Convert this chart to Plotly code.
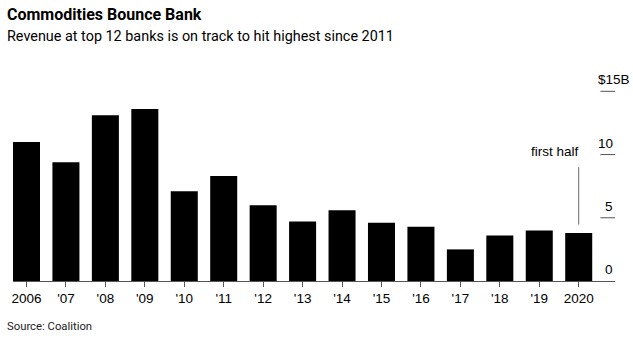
import plotly.graph_objects as go

years = ["2006", "'07", "'08", "'09", "'10", "'11", "'12", "'13", "'14", "'15", "'16", "'17", "'18", "'19", "2020"]
revenue = [11.0, 9.4, 13.1, 13.6, 7.1, 8.3, 6.0, 4.7, 5.6, 4.6, 4.3, 2.5, 3.6, 4.0, 3.8]
ytick_vals = [0, 5, 10, 15]
ytick_text = ["0", "5", "10", "$15B"]

FONT = "Liberation Sans, Arial, sans-serif"
TFONT = "Roboto, Liberation Sans, sans-serif"

W, H = 633, 339
ml, mr, mt, mb = 13, 18, 85, 58

fig = go.Figure(go.Bar(x=years, y=revenue, marker=dict(color="#000000", line=dict(width=0)),
                       hoverinfo="skip"))

fig.update_layout(
    width=W, height=H,
    margin=dict(l=ml, r=mr, t=mt, b=mb),
    paper_bgcolor="white", plot_bgcolor="white",
    bargap=0.315,
    showlegend=False,
    font=dict(family=FONT, color="#000"),
    xaxis=dict(type="category", range=[-0.342, 14.92], showgrid=False, zeroline=False,
               showline=True, linecolor="#555", linewidth=1,
               ticks="outside", ticklen=5, tickcolor="#555", tickwidth=1,
               tickfont=dict(size=13.5, family=FONT, color="#000")),
    yaxis=dict(range=[0, 15.5], showgrid=False, zeroline=False, showline=False,
               showticklabels=False, ticks=""),
)

# y-axis ticks (short marks at right with labels above)
for v, t in zip(ytick_vals, ytick_text):
    if v > 0:
        fig.add_shape(type="line", xref="x", yref="y", x0=14.55, x1=14.92, y0=v, y1=v,
                      line=dict(color="#555", width=1))
    fig.add_annotation(x=14.92, y=v, xref="x", yref="y", text=t, showarrow=False,
                       xanchor="right", yanchor="bottom", yshift=2,
                       xshift=(17 if t == "$15B" else 0),
                       font=dict(size=13.5, family=FONT, color="#000"))

# first half annotation
fig.add_shape(type="line", xref="x", yref="y", x0=14, x1=14, y0=4.46, y1=9.0,
              line=dict(color="#666", width=1))
fig.add_annotation(x=14, y=10.25, xref="x", yref="y", text="first half", showarrow=False,
                   xanchor="right", yanchor="middle", xshift=2,
                   font=dict(size=13.5, family=FONT, color="#000"))


def paper_xy(px, py):
    return (px - ml) / (W - ml - mr), 1 - (py - mt) / (H - mt - mb)


x0, y0 = paper_xy(5, 3)
fig.add_annotation(x=x0, y=y0, xref="paper", yref="paper", text="<b>Commodities Bounce Bank</b>",
                   showarrow=False, xanchor="left", yanchor="top",
                   font=dict(size=16, family=TFONT, color="#000"))
x0, y0 = paper_xy(5, 26)
fig.add_annotation(x=x0, y=y0, xref="paper", yref="paper",
                   text="Revenue at top 12 banks is on track to hit highest since 2011",
                   showarrow=False, xanchor="left", yanchor="top",
                   font=dict(size=14.4, family=TFONT, color="#000"))
x0, y0 = paper_xy(5, 318)
fig.add_annotation(x=x0, y=y0, xref="paper", yref="paper", text="Source: Coalition",
                   showarrow=False, xanchor="left", yanchor="top",
                   font=dict(size=11.3, family=TFONT, color="#222"))

fig.write_html("out.html")
